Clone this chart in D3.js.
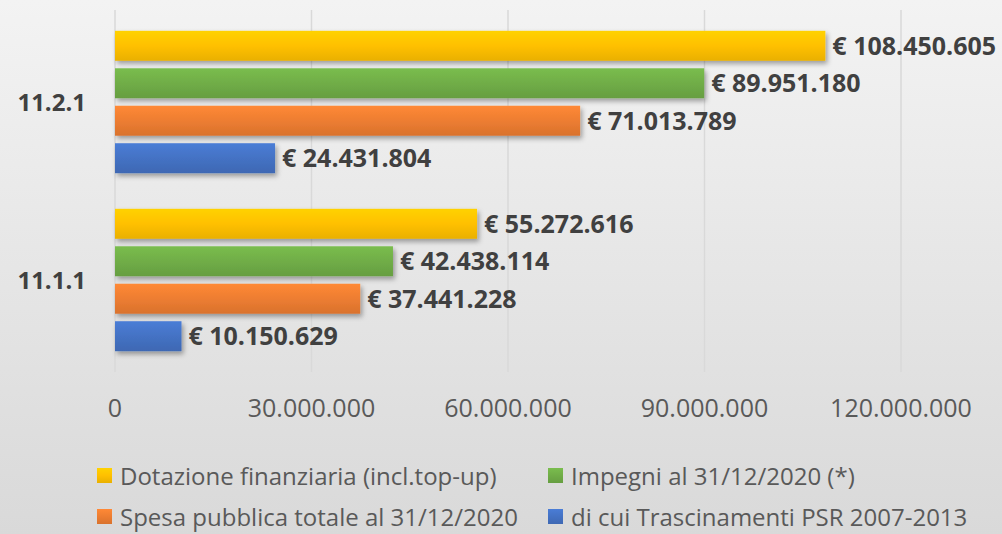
<!DOCTYPE html>
<html>
<head>
<meta charset="utf-8">
<script src="https://cdn.jsdelivr.net/npm/d3@7"></script>
<style>
  body { margin: 0; }
  svg { display: block; }
</style>
</head>
<body>
<svg id="chart"></svg>
<script>
const categories = ["11.2.1", "11.1.1"];
const seriesNames = [
  "Dotazione finanziaria (incl.top-up)",
  "Impegni al 31/12/2020 (*)",
  "Spesa pubblica totale al 31/12/2020",
  "di cui Trascinamenti PSR 2007-2013"
];
const dotazione = [108450605, 55272616];
const impegni = [89951180, 42438114];
const spesa = [71013789, 37441228];
const trascinamenti = [24431804, 10150629];
const xTicks = [0, 30000000, 60000000, 90000000, 120000000];

const colors = ["#FFC000", "#70AD47", "#ED7D31", "#4472C4"];
const allSeries = [dotazione, impegni, spesa, trascinamenti];

const width = 1002, height = 534;
const font = "'Open Sans', sans-serif";
const svg = d3.select("#chart").attr("width", width).attr("height", height);
const defs = svg.append("defs");

// background
const bg = defs.append("linearGradient").attr("id", "bg")
  .attr("x1", 0).attr("y1", 0).attr("x2", 0).attr("y2", 1);
bg.append("stop").attr("offset", "0%").attr("stop-color", "#f3f3f3");
bg.append("stop").attr("offset", "100%").attr("stop-color", "#d9d9d9");
svg.append("rect").attr("width", width).attr("height", height).attr("fill", "url(#bg)");

// bar gradients
colors.forEach((c, i) => {
  const g = defs.append("linearGradient").attr("id", "bar" + i)
    .attr("x1", 0).attr("y1", 0).attr("x2", 0).attr("y2", 1);
  g.append("stop").attr("offset", "0%").attr("stop-color", d3.color(c).brighter(0.25));
  g.append("stop").attr("offset", "50%").attr("stop-color", c);
  g.append("stop").attr("offset", "100%").attr("stop-color", d3.color(c).darker(0.25));
});

const shadow = defs.append("filter").attr("id", "shadow")
  .attr("x", "-5%").attr("y", "-30%").attr("width", "115%").attr("height", "170%");
shadow.append("feDropShadow").attr("dx", 2).attr("dy", 3).attr("stdDeviation", 2.5)
  .attr("flood-color", "#000").attr("flood-opacity", 0.35);

const x = d3.scaleLinear().domain([0, 120000000]).range([115, 901]);
const y0 = d3.scaleBand().domain(categories).range([13, 369])
  .paddingInner(0.2).paddingOuter(0.1);
const y1 = d3.scaleBand().domain(d3.range(4)).range([0, y0.bandwidth()]).paddingInner(0.2);

// gridlines
svg.append("g").selectAll("line").data(xTicks).join("line")
  .attr("x1", d => x(d)).attr("x2", d => x(d))
  .attr("y1", 10).attr("y2", 372)
  .attr("stroke", "#d9d9d9").attr("stroke-width", 1.5);

// tick labels
const fmt = d => d === 0 ? "0" : d3.format(",")(d).replace(/,/g, ".");
svg.append("g").selectAll("text").data(xTicks).join("text")
  .attr("x", d => x(d)).attr("y", 417)
  .attr("text-anchor", "middle")
  .attr("font-family", font).attr("font-size", 25)
  .attr("fill", "#595959")
  .text(fmt);

// category labels
svg.append("g").selectAll("text").data(categories).join("text")
  .attr("x", 86).attr("y", d => y0(d) + y0.bandwidth() / 2)
  .attr("dy", "0.36em").attr("text-anchor", "end")
  .attr("font-family", font).attr("font-size", 24)
  .attr("font-weight", "bold").attr("fill", "#404040")
  .text(d => d);

// bars
const groups = svg.append("g").selectAll("g").data(categories).join("g")
  .attr("transform", d => `translate(0,${y0(d)})`);

groups.each(function(cat, ci) {
  const g = d3.select(this);
  const data = allSeries.map((s, si) => ({ si, v: s[ci] }));
  g.selectAll("rect").data(data).join("rect")
    .attr("x", x(0)).attr("y", d => y1(d.si))
    .attr("width", d => x(d.v) - x(0)).attr("height", y1.bandwidth())
    .attr("fill", d => `url(#bar${d.si})`)
    .attr("filter", "url(#shadow)");
  g.selectAll("text").data(data).join("text")
    .attr("x", d => x(d.v) + 7).attr("y", d => y1(d.si) + y1.bandwidth() / 2)
    .attr("dy", "0.36em")
    .attr("font-family", font).attr("font-size", 25)
    .attr("font-weight", "bold").attr("fill", "#404040")
    .text(d => "€ " + fmt(d.v));
});

// legend
const legendPos = [[97, 476], [548, 476], [97, 517], [548, 517]];
const legend = svg.append("g").selectAll("g").data(seriesNames).join("g")
  .attr("transform", (d, i) => `translate(${legendPos[i][0]},${legendPos[i][1]})`);
legend.append("rect").attr("x", 0).attr("y", -8).attr("width", 15).attr("height", 15)
  .attr("fill", (d, i) => `url(#bar${i})`);
legend.append("text").attr("x", 23).attr("y", 0).attr("dy", "0.36em")
  .attr("font-family", font).attr("font-size", 24)
  .attr("fill", "#595959")
  .text(d => d);
</script>
</body>
</html>
